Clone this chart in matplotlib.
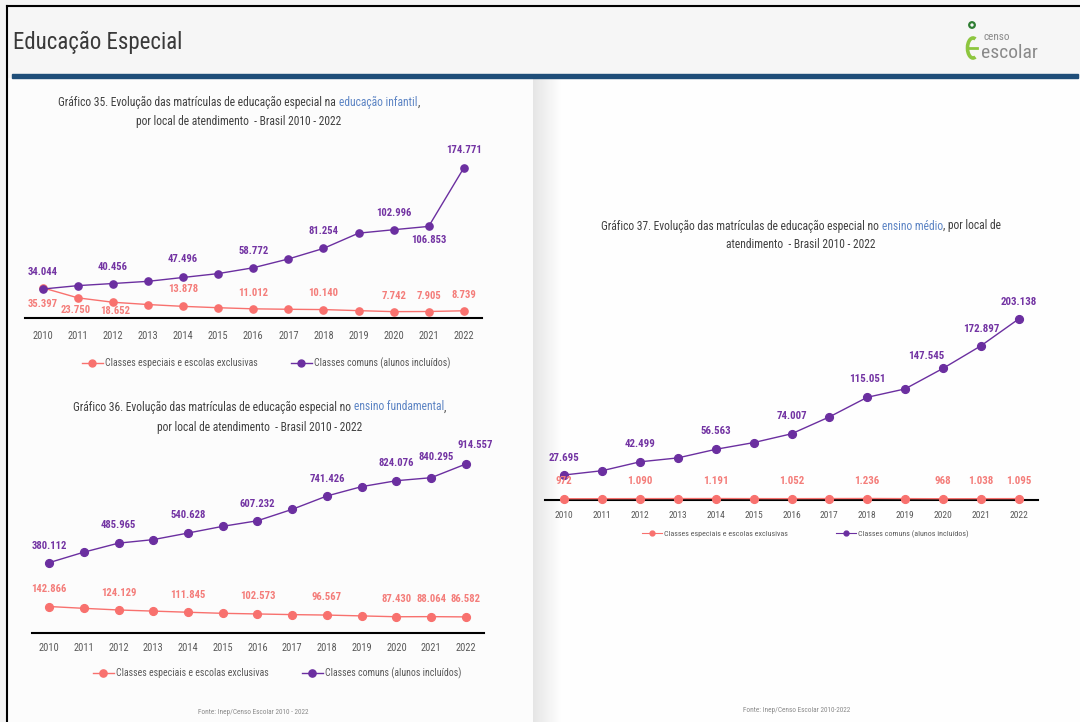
import numpy as np
import matplotlib
matplotlib.use('Agg')
import matplotlib.pyplot as plt
from matplotlib import font_manager
from matplotlib.lines import Line2D
from matplotlib.patches import Rectangle, Arc, Circle


W, H = 1080, 722

# pick a condensed face for the slide text
names = {f.name for f in font_manager.fontManager.ttflist}
NARROW = next((n for n in ['Liberation Sans Narrow', 'Arial Narrow', 'Roboto Condensed']
               if n in names), None)
STRETCH = 'normal'
if NARROW is None:
    NARROW = 'DejaVu Sans'
    STRETCH = 'condensed'
plt.rcParams['font.family'] = [NARROW, 'DejaVu Sans']
plt.rcParams['font.stretch'] = STRETCH

##################################################
#################### DATA ########################
##################################################
years = list(range(2010, 2023))

# Gráfico 35 - educação infantil
inf_exclusivas = [35397, 23750, 18652, 16000, 13878, 12300, 11012,
                  10500, 10140, 8900, 7742, 7905, 8739]
inf_comuns = [34044, 38000, 40456, 43000, 47496, 52000, 58772,
              69000, 81254, 99000, 102996, 106853, 174771]

# Gráfico 36 - ensino fundamental
fund_exclusivas = [142866, 133000, 124129, 118000, 111845, 106000, 102573,
                   99000, 96567, 92000, 87430, 88064, 86582]
fund_comuns = [380112, 437000, 485965, 505000, 540628, 577000, 607232,
               669000, 741426, 792000, 824076, 840295, 914557]

# Gráfico 37 - ensino médio
med_exclusivas = [972, 1030, 1090, 1150, 1191, 1100, 1052,
                  1150, 1236, 1100, 968, 1038, 1095]
med_comuns = [27695, 32500, 42499, 46900, 56563, 64100, 74007,
              93000, 115051, 124500, 147545, 172897, 203138]

serie_names = ['Classes especiais e escolas exclusivas',
               'Classes comuns (alunos incluídos)']

PINK = '#F8716E'
PINK_TXT = '#F47D7A'
PURPLE = '#6B2FA0'
PURPLE_TXT = '#7334A3'
GRAY = '#404040'
BLUE_WORD = '#5C84C4'

fig = plt.figure(figsize=(W / 100, H / 100), dpi=100)


def px_axes(x0, x1, y_top, y_bot):
    return fig.add_axes([x0 / W, 1 - y_bot / H, (x1 - x0) / W, (y_bot - y_top) / H])


def ftext(x, y, s, **kw):
    return fig.text(x / W, 1 - y / H, s, **kw)


def br(v):
    return f'{v:,}'.replace(',', '.')


##################################################
#################### BACKGROUND ##################
##################################################
bg = fig.add_axes([0, 0, 1, 1])
bg.axis('off')
bg.add_patch(Rectangle((0, 0), W, H, color='#F4F4F4', zorder=0))
bg.add_patch(Rectangle((8, 78), 525, H, color='#FCFCFC', zorder=1))
bg.add_patch(Rectangle((533, 78), W - 533, H, color='#FEFEFE', zorder=1))
# soft shadow on the left edge of the right panel
shade = np.linspace(0.86, 1.0, 64).reshape(1, -1) ** 0.7
bg.imshow(np.dstack([shade] * 3), extent=(533, 562, H, 78), aspect='auto', zorder=2)
bg.set_xlim(0, W)
bg.set_ylim(H, 0)
bg.add_patch(Rectangle((8, 8), W, 66, color='#F6F6F6', zorder=1))
bg.add_patch(Rectangle((12, 74), W - 14, 3.5, color='#1F4E79', zorder=3))
bg.plot([7, W], [6, 6], color='black', lw=1.5, zorder=4)
bg.plot([7, 7], [6, H], color='black', lw=1.5, zorder=4)

ftext(13, 42, 'Educação Especial', fontsize=16.5, color='#3A3A3A', va='center')

# censo escolar logo
bg.add_patch(Circle((972, 25), 2.8, fill=False, ec='#2E7D32', lw=1.6, zorder=5))
bg.add_patch(Arc((973, 48), 11, 20, theta1=75, theta2=285, color='#8DC63F', lw=2.6, zorder=5))
bg.plot([969, 977], [48, 48], color='#8DC63F', lw=2, zorder=5)
ftext(983, 37, 'censo', fontsize=8, color='#8A8A8A', va='center')
ftext(981, 53, 'escolar', fontsize=14, color='#8A8A8A', va='center')


##################################################
#################### FUNCTIONS ###################
##################################################
def title_line(cx, y, parts, size):
    arts = []
    for s, c in parts:
        arts.append(ftext(0, y, s, fontsize=size, color=c, va='center', ha='left'))
    r = fig.canvas.get_renderer()
    widths = [a.get_window_extent(r).width for a in arts]
    x = cx - sum(widths) / 2
    for a, w in zip(arts, widths):
        a.set_x(x / W)
        x += w


def draw_chart(box, xlim, ytop, excl, comuns, excl_labels, comuns_labels,
               pad, year_size, label_size, ms, lw):
    ax = px_axes(*box)
    ax.set_xlim(*xlim)
    ax.set_ylim(0, ytop)
    ax.patch.set_alpha(0)
    for s in ['left', 'right', 'top']:
        ax.spines[s].set_visible(False)
    ax.spines['bottom'].set_linewidth(1.5)
    ax.spines['bottom'].set_zorder(1)
    ax.set_yticks([])
    ax.set_xticks(years)
    ax.set_xticklabels([str(y) for y in years], fontsize=year_size, color='#595959')
    ax.tick_params(axis='x', length=0, pad=pad)

    ax.plot(years, excl, color=PINK, lw=lw, marker='o', ms=ms, clip_on=False, zorder=3)
    ax.plot(years, comuns, color=PURPLE, lw=lw, marker='o', ms=ms, clip_on=False, zorder=4)

    for vals, labels, color in [(excl, excl_labels, PINK_TXT), (comuns, comuns_labels, PURPLE_TXT)]:
        for yr, (dx, dy) in labels.items():
            v = vals[years.index(yr)]
            ax.annotate(br(v), (yr, v), xytext=(dx, dy), textcoords='offset pixels',
                        ha='center', va='center', fontsize=label_size,
                        fontweight='bold', color=color, zorder=6)
    return ax


def draw_legend(ax, cx, y, size, ms, lw, hl, gap):
    handles = [Line2D([], [], color=PINK, lw=lw, marker='o', ms=ms),
               Line2D([], [], color=PURPLE, lw=lw, marker='o', ms=ms)]
    leg = ax.legend(handles, serie_names, loc='center', ncol=2, frameon=False,
                    bbox_to_anchor=(cx / W, 1 - y / H), bbox_transform=fig.transFigure,
                    fontsize=size, handlelength=hl, handletextpad=0.2,
                    columnspacing=gap, borderaxespad=0)
    for t in leg.get_texts():
        t.set_color('#595959')


##################################################
#################### CHARTS ######################
##################################################
# Gráfico 35
title_line(239, 102, [('Gráfico 35. Evolução das matrículas de educação especial na ', GRAY),
                      ('educação infantil', BLUE_WORD), (',', GRAY)], 8.3)
title_line(239, 122, [('por local de atendimento  - Brasil 2010 - 2022', GRAY)], 8.3)
ax35 = draw_chart((25, 482, 146.3, 318.3), (2009.49, 2022.52), 200000,
                  inf_exclusivas, inf_comuns,
                  {2010: (0, -16), 2011: (-2, -12), 2012: (2, -9), 2014: (0, 17),
                   2016: (0, 16), 2018: (0, 17), 2020: (0, 16), 2021: (0, 16), 2022: (0, 16)},
                  {2010: (0, 17), 2012: (0, 17), 2014: (0, 18), 2016: (0, 17),
                   2018: (0, 17), 2020: (0, 17), 2021: (0, -14), 2022: (0, 18)},
                  pad=9, year_size=7.5, label_size=7.7, ms=5.2, lw=1.0)
draw_legend(ax35, 266, 363, 7.1, 5, 1.0, 2.1, 3.4)

# Gráfico 36
title_line(260, 407, [('Gráfico 36. Evolução das matrículas de educação especial no ', GRAY),
                      ('ensino fundamental', BLUE_WORD), (',', GRAY)], 8.3)
title_line(260, 427, [('por local de atendimento  - Brasil 2010 - 2022', GRAY)], 8.3)
ax36 = draw_chart((32, 484, 448.2, 632.9), (2009.51, 2022.52), 1000000,
                  fund_exclusivas, fund_comuns,
                  {2010: (0, 18), 2012: (0, 17), 2014: (0, 17), 2016: (0, 18),
                   2018: (0, 18), 2020: (0, 18), 2021: (0, 18), 2022: (0, 18)},
                  {2010: (0, 17), 2012: (0, 18), 2014: (0, 18), 2016: (0, 17),
                   2018: (0, 17), 2020: (0, 18), 2021: (5, 21), 2022: (9, 19)},
                  pad=7, year_size=7.5, label_size=7.7, ms=5.6, lw=1.0)
draw_legend(ax36, 277, 673, 7.1, 5.2, 1.0, 2.1, 3.4)
ftext(253, 713, 'Fonte: Inep/Censo Escolar 2010 - 2022', fontsize=5.2, color='#8A8A8A',
      ha='center', va='center')

# Gráfico 37
title_line(801, 226, [('Gráfico 37. Evolução das matrículas de educação especial no ', GRAY),
                      ('ensino médio', BLUE_WORD), (', por local de', GRAY)], 8.3)
title_line(801, 245, [('atendimento  - Brasil 2010 - 2022', GRAY)], 8.3)
ax37 = draw_chart((545, 1038, 295.1, 499.6), (2009.49, 2022.51), 230000,
                  med_exclusivas, med_comuns,
                  {2010: (0, 18), 2012: (0, 18), 2014: (0, 18), 2016: (0, 18),
                   2018: (0, 18), 2020: (0, 18), 2021: (0, 18), 2022: (0, 18)},
                  {2010: (0, 17), 2012: (0, 18), 2014: (0, 18), 2016: (0, 18),
                   2018: (0, 18), 2020: (-17, 12), 2021: (0, 17), 2022: (0, 17)},
                  pad=8, year_size=6.8, label_size=7.8, ms=5.6, lw=1.0)
draw_legend(ax37, 805, 534, 5.8, 3.5, 0.8, 2.5, 6)
ftext(797, 711, 'Fonte: Inep/Censo Escolar 2010-2022', fontsize=5.2, color='#8A8A8A',
      ha='center', va='center')

fig.savefig('out.png', dpi=100)
